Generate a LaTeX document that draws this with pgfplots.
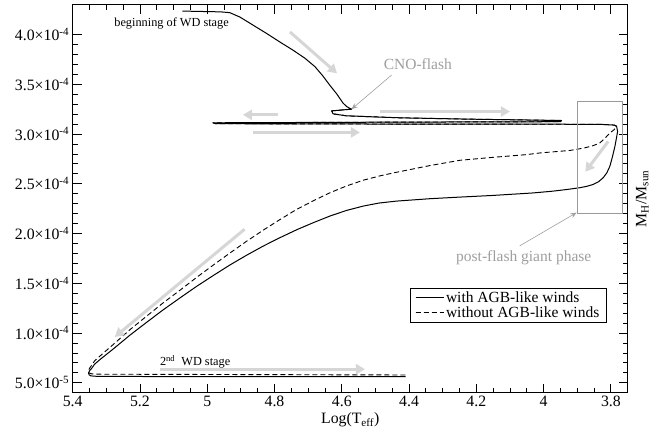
\documentclass[border=0pt]{standalone}
\usepackage{fontspec}
\setmainfont{Liberation Serif}
\usepackage{pgfplots}
\pgfplotsset{compat=1.18}
\usetikzlibrary{arrows.meta}
\definecolor{arrgray}{gray}{0.84}
\definecolor{txtgray}{gray}{0.62}
\definecolor{boxgray}{gray}{0.6}
\begin{document}
\begin{tikzpicture}
\begin{axis}[
  scale only axis, width=555pt, height=388pt,
  x dir=reverse,
  xmin=3.75, xmax=5.4, ymin=0.4, ymax=4.3,
  xtick={5.4,5.2,5,4.8,4.6,4.4,4.2,4,3.8},
  xticklabels={5.4,5.2,5,4.8,4.6,4.4,4.2,4,3.8},
  minor x tick num=3,
  ytick={0.5,1,1.5,2,2.5,3,3.5,4},
  yticklabels={5.0×10\textsuperscript{-5},1.0×10\textsuperscript{-4},1.5×10\textsuperscript{-4},2.0×10\textsuperscript{-4},2.5×10\textsuperscript{-4},3.0×10\textsuperscript{-4},3.5×10\textsuperscript{-4},4.0×10\textsuperscript{-4}},
  minor y tick num=4,
  tick align=inside, major tick length=9pt, minor tick length=5pt,
  every tick/.style={black, line width=0.8pt},
  axis line style={line width=1.3pt},
  tick label style={font=\fontsize{15.8}{18}\selectfont},
  xlabel={Log(T\textsubscript{eff})},
  xlabel style={font=\fontsize{15.8}{18}\selectfont, yshift=1pt},
  legend style={at={(0.9622,0.1814)}, anchor=south east, draw=black, line width=0.8pt,
    font=\fontsize{15.5}{15}\selectfont, inner xsep=5pt, inner ysep=1pt, row sep=-1pt},
  legend cell align=left,
  legend image code/.code={\draw[#1] (0pt,0pt) -- (22pt,0pt); \path (0pt,0pt) -- (28pt,0pt);},
]
% with AGB-like winds
\addplot[black, line width=1.0pt, line join=round] coordinates {
(5.074,4.236) (4.960,4.228) (4.933,4.22) (4.903,4.176) (4.863,4.093) (4.823,4.01)
(4.784,3.925) (4.745,3.843) (4.710,3.763) (4.680,3.678) (4.656,3.583)
(4.635,3.488) (4.615,3.403) (4.596,3.31) (4.585,3.275) (4.571,3.25)
(4.630,3.233) (4.626,3.203)
(4.586,3.183) (4.427,3.163) (4.229,3.15) (3.947,3.136) (3.95,3.124)
(4.4,3.12) (4.983,3.113) (4.975,3.104) (4.4,3.10) (3.833,3.098) (3.79,3.09)
(3.783,3.076) (3.780,3.026) (3.784,2.95) (3.788,2.876) (3.795,2.776) (3.803,2.676)
(3.812,2.61) (3.823,2.56) (3.837,2.52) (3.853,2.493) (3.872,2.474)
(3.893,2.46) (3.930,2.443) (3.972,2.426) (4.031,2.408) (4.150,2.383) (4.250,2.366) (4.338,2.35) (4.437,2.326)
(4.490,2.306) (4.536,2.276) (4.586,2.232) (4.635,2.176) (4.684,2.11) (4.734,2.038) (4.784,1.958)
(4.834,1.873) (4.884,1.78) (4.933,1.683) (4.982,1.578) (5.032,1.468) (5.081,1.353)
(5.131,1.233) (5.180,1.108) (5.230,0.978) (5.280,0.838) (5.319,0.733) (5.335,0.686)
(5.343,0.647) (5.350,0.62) (5.353,0.597) (5.351,0.58) (5.346,0.569) (5.322,0.563) (5.25,0.563) (4.41,0.561)
};
\addlegendentry{with AGB-like winds}
% without AGB-like winds
\addplot[black, line width=0.9pt, line join=round, dash pattern=on 5pt off 3pt] coordinates {
(4.571,3.25) (4.630,3.233) (4.626,3.203)
(4.586,3.183) (4.427,3.163) (4.229,3.15) (3.947,3.136) (3.95,3.124)
(4.4,3.12) (4.983,3.113) (4.975,3.104) (4.4,3.10) (3.833,3.098) (3.79,3.09)
(3.783,3.08) (3.79,3.045) (3.803,3.01) (3.817,2.96) (3.833,2.91) (3.853,2.883) (3.877,2.862) (3.902,2.846) (3.922,2.835)
(4.011,2.81) (4.051,2.793) (4.150,2.766) (4.249,2.736) (4.338,2.683) (4.437,2.616)
(4.486,2.58) (4.536,2.536) (4.586,2.478) (4.635,2.41) (4.684,2.33) (4.734,2.243) (4.784,2.14)
(4.834,2.033) (4.884,1.92) (4.933,1.803) (4.982,1.683) (5.032,1.558) (5.081,1.43)
(5.131,1.303) (5.180,1.17) (5.230,1.033) (5.280,0.883) (5.319,0.768) (5.335,0.72)
(5.343,0.678) (5.350,0.645) (5.353,0.618) (5.351,0.598) (5.343,0.589) (5.319,0.586) (4.41,0.578)
};
\addlegendentry{without AGB-like winds}
% gray guide arrows
\begin{scope}[arrgray, line width=3pt, -{Triangle[length=9pt,width=10pt]}]
\draw (axis cs:4.754,4.026) -- (axis cs:4.614,3.61);
\draw (axis cs:4.79,3.193) -- (axis cs:4.894,3.193);
\draw (axis cs:4.863,3.016) -- (axis cs:4.546,3.016);
\draw (axis cs:4.487,3.226) -- (axis cs:4.10,3.226);
\draw (axis cs:3.808,2.926) -- (axis cs:3.876,2.62);
\draw (axis cs:4.889,2.043) -- (axis cs:5.275,0.96);
\draw (axis cs:5.14,0.636) -- (axis cs:4.531,0.636);
\end{scope}
\draw[boxgray, line width=0.8pt] (axis cs:3.90,2.203) rectangle (axis cs:3.767,3.326);
\draw[txtgray, line width=0.6pt, -{Stealth[length=6pt,width=5pt]}] (axis cs:4.452,3.593) -- (axis cs:4.571,3.25);
\draw[txtgray, line width=0.6pt, -{Stealth[length=6pt,width=5pt]}] (axis cs:4.071,1.876) -- (axis cs:3.902,2.21);
\node[txtgray, font=\fontsize{15.5}{18}\selectfont] at (axis cs:4.374,3.703) {CNO-flash};
\node[txtgray, font=\fontsize{15.5}{18}\selectfont] at (axis cs:4.059,1.76) {post-flash giant phase};
\node[font=\fontsize{12.3}{14}\selectfont] at (axis cs:5.106,4.11) {beginning of WD stage};
\node[anchor=west, inner sep=0pt, font=\fontsize{12.3}{14}\selectfont] at (axis cs:5.141,0.71) {2\textsuperscript{nd}\ \ WD stage};
\end{axis}
\node[rotate=90, anchor=north, inner sep=0pt, font=\fontsize{15.8}{18}\selectfont] at ([xshift=8pt]current axis.east) {M\textsubscript{H}/M\textsubscript{sun}};
\pgfresetboundingbox
\path[use as bounding box] ([xshift=-72.7pt,yshift=-41.3pt]current axis.south west) rectangle ++(671pt,434pt);
\end{tikzpicture}
\end{document}
